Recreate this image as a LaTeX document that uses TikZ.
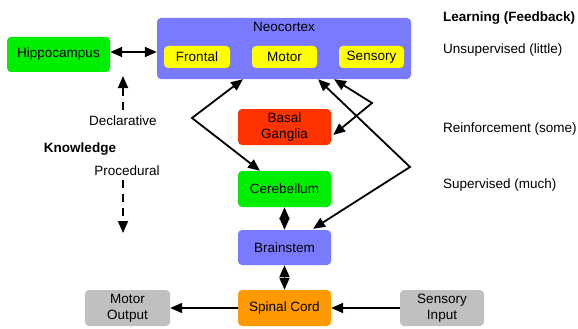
\documentclass[tikz,border=0pt]{standalone}
\usepackage{fontspec}
\setmainfont{Liberation Sans}
\usetikzlibrary{arrows.meta,calc}
\definecolor{cblue}{RGB}{122,122,255}
\definecolor{cgreen}{RGB}{0,238,0}
\definecolor{cred}{RGB}{255,51,0}
\definecolor{corange}{RGB}{255,153,0}
\definecolor{cgray}{RGB}{192,192,192}
\definecolor{cyell}{RGB}{255,255,0}
\tikzset{
  box/.style={rectangle, rounded corners=4pt, inner sep=0pt, align=center,
    font=\fontsize{13.5}{16}\selectfont},
  lbl/.style={inner sep=0pt, font=\fontsize{13.5}{16}\selectfont},
  conn/.style={line width=1.8pt, -{Triangle[length=12pt,width=10pt]}},
  dconn/.style={line width=1.8pt, {Triangle[length=12pt,width=10pt]}-{Triangle[length=12pt,width=10pt]}},
  dsh/.style={line width=1.8pt, dash pattern=on 8pt off 6pt, -{Triangle[length=12pt,width=10pt]}}
}
\begin{document}
\begin{tikzpicture}[x=1pt,y=-1pt]
\useasboundingbox (0,0) rectangle (578,329);
% Neocortex
\node[box, fill=cblue, minimum width=254pt, minimum height=61pt] (neo) at (284,48.5) {};
\node[lbl] (neolbl) at (284,27) {Neocortex};
\node[box, fill=cyell, minimum width=66pt, minimum height=22pt] (frontal) at (197,57) {Frontal};
\node[box, fill=cyell, minimum width=65pt, minimum height=22pt] (motor) at (284.5,57) {Motor};
\node[box, fill=cyell, minimum width=65pt, minimum height=22pt] (sensory) at (371.5,57) {Sensory};
% other boxes
\node[box, fill=cgreen, minimum width=103pt, minimum height=35pt] (hippo) at (58.5,54.5) {Hippocampus};
\node[box, fill=cred, minimum width=93pt, minimum height=36pt] (basal) at (284.5,127) {Basal\\Ganglia};
\node[box, fill=cgreen, minimum width=93pt, minimum height=36pt] (cereb) at (284.5,189) {Cerebellum};
\node[box, fill=cblue, minimum width=93pt, minimum height=35pt] (brain) at (284.5,247.5) {Brainstem};
\node[box, fill=corange, minimum width=93pt, minimum height=36pt] (spinal) at (284.5,308) {Spinal Cord};
\node[box, fill=cgray, minimum width=85pt, minimum height=36pt] (mout) at (127.5,308) {Motor\\Output};
\node[box, fill=cgray, minimum width=84pt, minimum height=36pt] (sin) at (442,308) {Sensory\\Input};
% left labels
\node[lbl] (decl) at (123,121) {Declarative};
\node[lbl, font=\fontsize{13.5}{16}\selectfont\bfseries] (know) at (80,149) {Knowledge};
\node[lbl] (proc) at (127,171) {Procedural};
\coordinate (declend) at (123,76);
\coordinate (procend) at (123,233);
% right labels
\node[lbl, anchor=west, font=\fontsize{13.5}{16}\selectfont\bfseries] (learn) at (443,18) {Learning (Feedback)};
\node[lbl, anchor=west] (unsup) at (443,50) {Unsupervised (little)};
\node[lbl, anchor=west] (reinf) at (443,129) {Reinforcement (some)};
\node[lbl, anchor=west] (superv) at (443,185) {Supervised (much)};
% corner coordinates
\coordinate (c1) at (192,118);
\coordinate (c2) at (410,167);
\coordinate (c3) at (372,103);
% connectors
\draw[dconn] (hippo.east |- 0,52) -- (neo.west |- 0,52);
\draw[dsh] ([yshift=-1pt]decl.north |- 0,109) -- (declend);
\draw[dsh] (proc.south -| procend) ++(0,4) -- (procend);
\draw[dconn] ([xshift=-41pt]neo.south) -- (c1) -- ([xshift=-24.5pt]cereb.north);
\draw[dconn] ([xshift=34pt]neo.south) -- (c2) -- ([xshift=28.5pt,yshift=1pt]brain.north);
\draw[dconn] ([xshift=50pt]neo.south) -- (c3) -- ([xshift=2pt,yshift=-8pt]basal.east);
\draw[dconn] (cereb.south) -- (brain.north);
\draw[dconn] (brain.south) -- (spinal.north);
\draw[conn] (spinal.west) -- (mout.east);
\draw[conn] (sin.west) -- (spinal.east);
\end{tikzpicture}
\end{document}
